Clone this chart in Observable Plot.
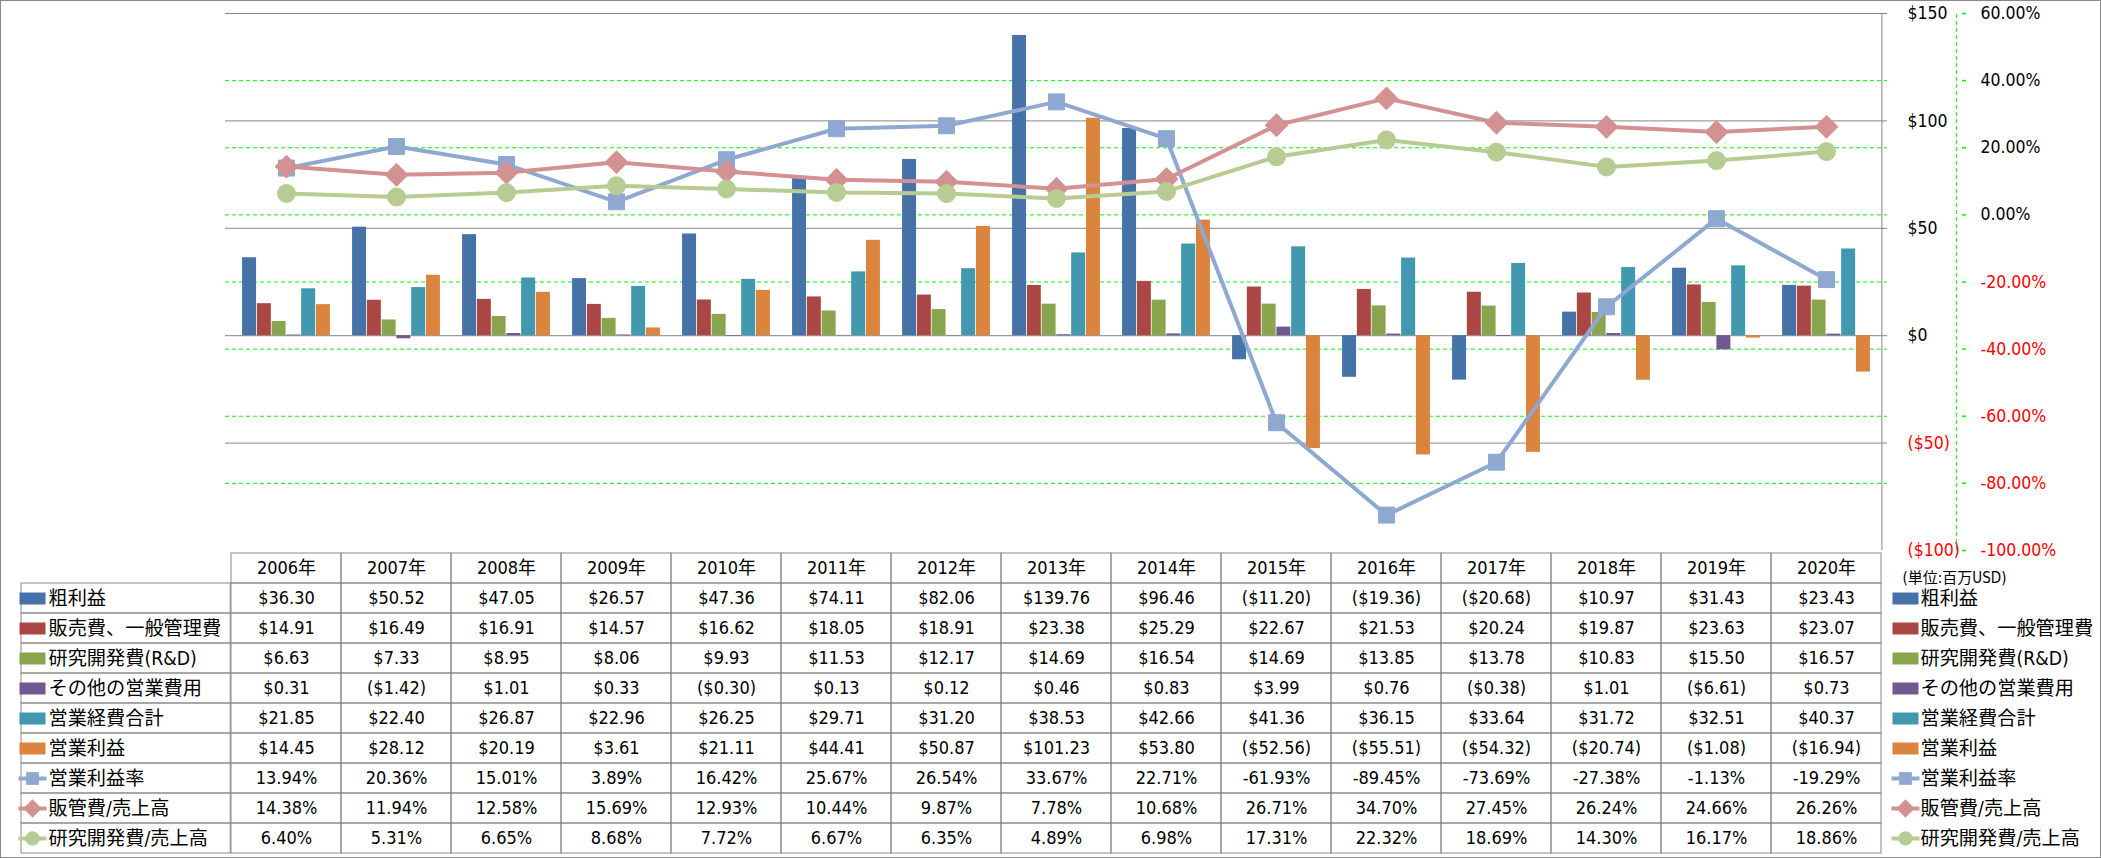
<!DOCTYPE html>
<html><head><meta charset="utf-8">
<script src="https://cdn.jsdelivr.net/npm/d3@7"></script>
<script src="https://cdn.jsdelivr.net/npm/@observablehq/plot@0.6"></script>
<style>
body{margin:0;background:#fff;}
#wrap{position:relative;width:2101px;height:858px;overflow:hidden;background:#fff;}
#wrap svg{position:absolute;left:0;}
#frame{position:absolute;left:0;top:0;width:2099px;height:856px;border:1px solid #898989;pointer-events:none;}
</style></head><body><div id="wrap"></div>
<script>
// ---------- data ----------
const years = ["2006年","2007年","2008年","2009年","2010年","2011年","2012年","2013年","2014年","2015年","2016年","2017年","2018年","2019年","2020年"];
const grossProfit = [36.30, 50.52, 47.05, 26.57, 47.36, 74.11, 82.06, 139.76, 96.46, -11.20, -19.36, -20.68, 10.97, 31.43, 23.43];
const sgaExpense = [14.91, 16.49, 16.91, 14.57, 16.62, 18.05, 18.91, 23.38, 25.29, 22.67, 21.53, 20.24, 19.87, 23.63, 23.07];
const rndExpense = [6.63, 7.33, 8.95, 8.06, 9.93, 11.53, 12.17, 14.69, 16.54, 14.69, 13.85, 13.78, 10.83, 15.50, 16.57];
const otherOpex = [0.31, -1.42, 1.01, 0.33, -0.30, 0.13, 0.12, 0.46, 0.83, 3.99, 0.76, -0.38, 1.01, -6.61, 0.73];
const totalOpex = [21.85, 22.40, 26.87, 22.96, 26.25, 29.71, 31.20, 38.53, 42.66, 41.36, 36.15, 33.64, 31.72, 32.51, 40.37];
const opIncome = [14.45, 28.12, 20.19, 3.61, 21.11, 44.41, 50.87, 101.23, 53.80, -52.56, -55.51, -54.32, -20.74, -1.08, -16.94];
const opMargin = [13.94, 20.36, 15.01, 3.89, 16.42, 25.67, 26.54, 33.67, 22.71, -61.93, -89.45, -73.69, -27.38, -1.13, -19.29];
const sgaRatio = [14.38, 11.94, 12.58, 15.69, 12.93, 10.44, 9.87, 7.78, 10.68, 26.71, 34.70, 27.45, 26.24, 24.66, 26.26];
const rndRatio = [6.40, 5.31, 6.65, 8.68, 7.72, 6.67, 6.35, 4.89, 6.98, 17.31, 22.32, 18.69, 14.30, 16.17, 18.86];

const barNames = ["粗利益","販売費、一般管理費","研究開発費(R&D)","その他の営業費用","営業経費合計","営業利益"];
const barValues = [grossProfit, sgaExpense, rndExpense, otherOpex, totalOpex, opIncome];
const lineNames = ["営業利益率","販管費/売上高","研究開発費/売上高"];
const lineValues = [opMargin, sgaRatio, rndRatio];

const dollarTicks = [150, 100, 50, 0, -50, -100];
const pctTicks = [60, 40, 20, 0, -20, -40, -60, -80, -100];
const unitLabel = "(単位:百万USD)";

// ---------- styles ----------
const barColors = ["#4572A7","#AA4643","#89A54E","#71588F","#4198AF","#DB843D"];
const lineColors = ["#8FA8D2","#D39191","#B6CC92"];
const lineSymbols = ["square","diamond2","circle"];
const lineR = [9, 10.3, 9];
const FONT = "'DejaVu Sans Condensed','Liberation Sans Narrow','DejaVu Sans','Noto Sans CJK JP',sans-serif";

const W = 2101, mL = 225, mR = 214;
const bw = (W - mL - mR) / years.length;
const barW = bw / 7.5, gap = barW * 0.75;
const pctToDollar = p => -100 + (p + 100) * 250 / 160;
const fmtD = v => v < 0 ? `($${(-v).toFixed(2)})` : `$${v.toFixed(2)}`;
const fmtP = v => v.toFixed(2) + "%";
const fmtTick = v => v < 0 ? `($${-v})` : `$${v}`;

const rectSym = {draw(ctx){ ctx.rect(-13, -6, 26, 12); }};
const lineSym = {draw(ctx){ ctx.moveTo(-14, 0); ctx.lineTo(14, 0); }};
const tickSym = {draw(ctx){ ctx.moveTo(0, 0); ctx.lineTo(4, 0); }};

const wrap = document.getElementById("wrap");

// ---------- chart ----------
const chart = Plot.plot({
  width: W, height: 551,
  marginLeft: mL, marginRight: mR, marginTop: 13, marginBottom: 1,
  style: {fontFamily: FONT, fontSize: "17.5px", background: "transparent", overflow: "visible"},
  x: {domain: years, padding: 0, axis: null},
  y: {domain: [-100, 150], axis: null},
  color: {type: "identity"},
  marks: [
    Plot.ruleY(dollarTicks.filter(d => d > -100), {stroke: "#868686", strokeWidth: 1}),
    Plot.ruleY(pctTicks.filter(d => d > -100 && d < 60), {y: pctToDollar, stroke: "#00ff00", strokeDasharray: "4,3"}),
    ...barValues.map((vals, i) => Plot.barY(years.map((y, j) => ({year: y, value: vals[j]})), {
      x: "year", y: "value", fill: barColors[i],
      insetLeft: gap + i * barW, insetRight: bw - gap - (i + 1) * barW
    })),
    Plot.ruleX([years[years.length - 1]], {dx: bw / 2, y1: -100, y2: 150, stroke: "#868686"}),
    Plot.ruleX([years[years.length - 1]], {dx: bw / 2 + 74.5, y1: -100, y2: 150, stroke: "#00ff00", strokeDasharray: "4,3"}),
    Plot.dot(pctTicks, {y: pctToDollar, frameAnchor: "right", dx: 74.5, symbol: tickSym, stroke: "#00ff00"}),
    ...lineValues.flatMap((vals, i) => {
      const d = years.map((y, j) => ({year: y, v: vals[j]}));
      return [
        Plot.line(d, {x: "year", y: r => pctToDollar(r.v), stroke: lineColors[i], strokeWidth: 4, strokeLinejoin: "round"}),
        Plot.dot(d, {x: "year", y: r => pctToDollar(r.v), symbol: lineSymbols[i], r: lineR[i], fill: lineColors[i], stroke: lineColors[i], strokeWidth: 1})
      ];
    }),
    Plot.text(dollarTicks, {y: d => d, frameAnchor: "right", dx: 20, textAnchor: "start", text: fmtTick, fill: d => d < 0 ? "#ff0000" : "#000000"}),
    Plot.text(pctTicks, {y: pctToDollar, frameAnchor: "right", dx: 93, textAnchor: "start", text: fmtP, fill: d => d < 0 ? "#ff0000" : "#000000"})
  ]
});
chart.style.top = "0px";
wrap.appendChild(chart);

// ---------- data table ----------
const rowNames = [...barNames, ...lineNames];
const rowKeys = ["header", ...rowNames];
const cells = [];
years.forEach((y, j) => {
  cells.push({year: y, row: "header", text: y});
  barNames.forEach((n, i) => cells.push({year: y, row: n, text: fmtD(barValues[i][j])}));
  lineNames.forEach((n, i) => cells.push({year: y, row: n, text: fmtP(lineValues[i][j])}));
});
const lineLegend = lineNames.map((n, i) => ({name: n, color: lineColors[i], symbol: lineSymbols[i], r: lineR[i] * 0.8}));
const barLegend = barNames.map((n, i) => ({name: n, color: barColors[i]}));

function legendMarks(dxSwatch, dxText) {
  const fa = dxSwatch < 0 ? "left" : "right";
  return [
    Plot.dot(barLegend, {y: "name", frameAnchor: fa, dx: dxSwatch, symbol: rectSym, fill: "color"}),
    ...lineLegend.map(l => Plot.dot([l], {y: "name", frameAnchor: fa, dx: dxSwatch, symbol: lineSym, stroke: "color", strokeWidth: 4})),
    ...lineLegend.map(l => Plot.dot([l], {y: "name", frameAnchor: fa, dx: dxSwatch, symbol: l.symbol, r: l.r, fill: "color"})),
    Plot.text(rowNames, {y: d => d, frameAnchor: fa, dx: dxText, textAnchor: "start", text: d => d, fontSize: 19.2})
  ];
}

const table = Plot.plot({
  width: W, height: 307,
  marginLeft: mL, marginRight: mR, marginTop: 0, marginBottom: 1,
  style: {fontFamily: FONT, fontSize: "18px", background: "transparent", overflow: "visible"},
  x: {domain: years, padding: 0, axis: null},
  y: {domain: rowKeys, padding: 0, axis: null},
  color: {type: "identity"},
  marks: [
    Plot.cell(cells, {x: "year", y: "row", fill: "none", stroke: "#898989"}),
    Plot.cell(rowNames, {x: () => years[0], y: d => d, insetLeft: -(mL - 15), insetRight: bw, fill: "none", stroke: "#898989"}),
    Plot.text(cells, {x: "year", y: "row", text: "text"}),
    ...legendMarks(-193, -177),
    ...legendMarks(18, 33),
    Plot.text([unitLabel], {frameAnchor: "top-right", dx: 15, dy: 22, textAnchor: "start", text: d => d, fontSize: 15})
  ]
});
table.style.top = "550px";
wrap.appendChild(table);

const frame = document.createElement("div");
frame.id = "frame";
wrap.appendChild(frame);
</script>
</body></html>
